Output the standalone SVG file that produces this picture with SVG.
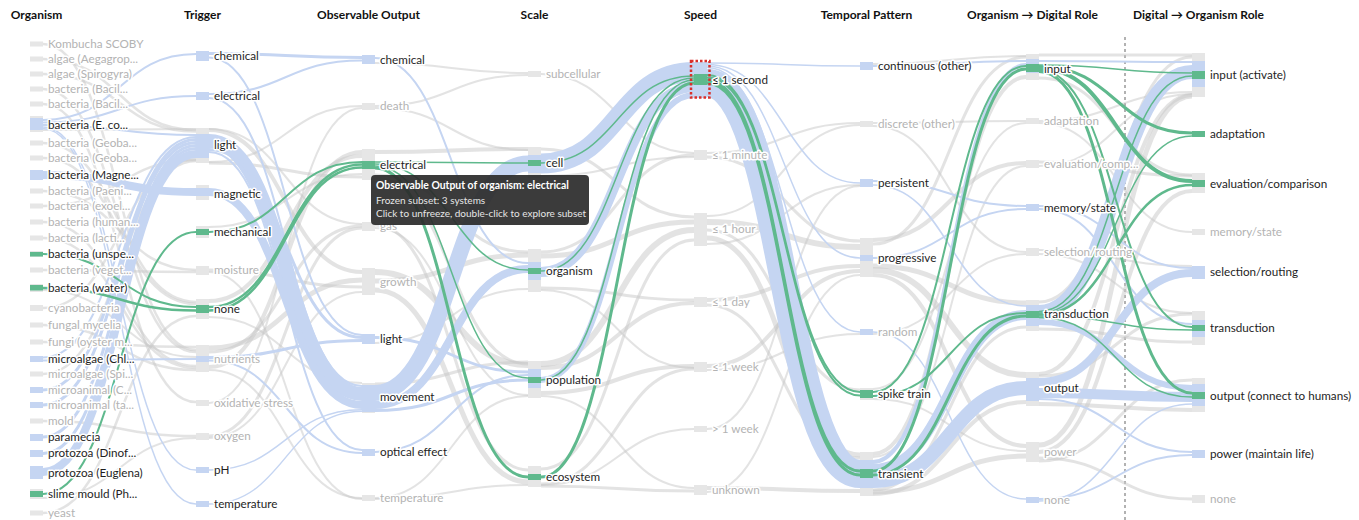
<svg xmlns="http://www.w3.org/2000/svg" width="1359" height="520" viewBox="0 0 1359 520">
<style>
.cg{fill:none;stroke:#c8c8c8;stroke-opacity:.5}
.cb{fill:none;stroke:#c5d5f2}
.cn{fill:none;stroke:#5fb98d}
.rg{fill:#e6e6e6}.rb{fill:#c5d5f2}.rn{fill:#5fb98d}
.l{font-family:Lato,"Noto Sans",sans-serif;font-size:11.7px;fill:#1e1e1e;paint-order:stroke;stroke:#fff;stroke-width:3px;stroke-linejoin:round}
.lg{fill:#b3b3b3}
.h{font-family:Lato,"Noto Sans",sans-serif;font-size:12px;font-weight:bold;text-anchor:middle;fill:#111}
.tt{font-family:Lato,"Noto Sans",sans-serif;font-size:10px;fill:#e6e6e6}
</style>
<rect width="1359" height="520" fill="#fff"/>
<g id="headers">
<text class="h" x="36.5" y="19">Organism</text>
<text class="h" x="202.5" y="19">Trigger</text>
<text class="h" x="368.5" y="19">Observable Output</text>
<text class="h" x="534.5" y="19">Scale</text>
<text class="h" x="700.5" y="19">Speed</text>
<text class="h" x="866.5" y="19">Temporal Pattern</text>
<text class="h" x="1032.5" y="19">Organism → Digital Role</text>
<text class="h" x="1198.5" y="19">Digital → Organism Role</text>
</g>
<line id="divider" x1="1125" y1="37" x2="1125" y2="520" stroke="#999" stroke-width="1.5" stroke-dasharray="3,3"/>
<g id="connectors">
<g id="grey-flows" class="cg">
<path stroke-width="2.5" d="M43 44C119.5 44 119.5 350 196 350"/>
<path stroke-width="2.5" d="M43 59C119.5 59 119.5 130 196 130"/>
<path stroke-width="2.5" d="M43 74C119.5 74 119.5 131.5 196 131.5"/>
<path stroke-width="2.5" d="M43 89C119.5 89 119.5 352 196 352"/>
<path stroke-width="2.5" d="M43 104C119.5 104 119.5 402 196 402"/>
<path stroke-width="2.5" d="M43 143C119.5 143 119.5 302 196 302"/>
<path stroke-width="2.5" d="M43 158C119.5 158 119.5 304 196 304"/>
<path stroke-width="2.5" d="M43 191C119.5 191 119.5 270 196 270"/>
<path stroke-width="2.5" d="M43 206C119.5 206 119.5 160 196 160"/>
<path stroke-width="2.5" d="M43 222C119.5 222 119.5 366 196 366"/>
<path stroke-width="2.5" d="M43 238C119.5 238 119.5 368 196 368"/>
<path stroke-width="2.5" d="M43 270C119.5 270 119.5 272 196 272"/>
<path stroke-width="2.5" d="M43 308C119.5 308 119.5 159 196 159"/>
<path stroke-width="2.5" d="M43 325C119.5 325 119.5 370 196 370"/>
<path stroke-width="2.5" d="M43 342C119.5 342 119.5 347 196 347"/>
<path stroke-width="2.5" d="M43 374C119.5 374 119.5 161 196 161"/>
<path stroke-width="2.5" d="M43 421C119.5 421 119.5 436 196 436"/>
<path stroke-width="2.5" d="M43 513C119.5 513 119.5 316 196 316"/>
<path stroke-width="2" d="M43 498C119.5 498 119.5 438 196 438"/>
<path stroke-width="2" d="M43 290C119.5 290 119.5 357 196 357"/>
<path stroke-width="2" d="M43 130C119.5 130 119.5 129 196 129"/>
<path stroke-width="4" d="M209 130C285.5 130 285.5 272 362 272"/>
<path stroke-width="2" d="M209 162C285.5 162 285.5 106 362 106"/>
<path stroke-width="5" d="M209 348C285.5 348 285.5 280 362 280"/>
<path stroke-width="3" d="M209 352C285.5 352 285.5 226 362 226"/>
<path stroke-width="4" d="M209 367C285.5 367 285.5 152 362 152"/>
<path stroke-width="2" d="M209 370C285.5 370 285.5 498 362 498"/>
<path stroke-width="3" d="M209 270C285.5 270 285.5 287 362 287"/>
<path stroke-width="2" d="M209 403C285.5 403 285.5 108 362 108"/>
<path stroke-width="3" d="M209 436C285.5 436 285.5 228 362 228"/>
<path stroke-width="2" d="M209 438C285.5 438 285.5 292 362 292"/>
<path stroke-width="4" d="M209 301C285.5 301 285.5 156 362 156"/>
<path stroke-width="2" d="M209 317C285.5 317 285.5 383 362 383"/>
<path stroke-width="2" d="M209 227C285.5 227 285.5 174 362 174"/>
<path stroke-width="3" d="M209 163C285.5 163 285.5 177 362 177"/>
<path stroke-width="2" d="M209 129C285.5 129 285.5 224 362 224"/>
<path stroke-width="2" d="M209 272C285.5 272 285.5 499 362 499"/>
<path stroke-width="2" d="M375 106C451.5 106 451.5 75 528 75"/>
<path stroke-width="2" d="M375 108C451.5 108 451.5 150 528 150"/>
<path stroke-width="4" d="M375 152C451.5 152 451.5 149 528 149"/>
<path stroke-width="3" d="M375 175C451.5 175 451.5 252 528 252"/>
<path stroke-width="3" d="M375 178C451.5 178 451.5 364 528 364"/>
<path stroke-width="3" d="M375 225C451.5 225 451.5 470 528 470"/>
<path stroke-width="2" d="M375 228C451.5 228 451.5 395 528 395"/>
<path stroke-width="6" d="M375 272C451.5 272 451.5 365 528 365"/>
<path stroke-width="5" d="M375 281C451.5 281 451.5 255 528 255"/>
<path stroke-width="5" d="M375 290C451.5 290 451.5 482 528 482"/>
<path stroke-width="2" d="M375 498C451.5 498 451.5 396 528 396"/>
<path stroke-width="2" d="M375 499C451.5 499 451.5 485 528 485"/>
<path stroke-width="2" d="M375 343C451.5 343 451.5 289 528 289"/>
<path stroke-width="3" d="M375 384C451.5 384 451.5 362 528 362"/>
<path stroke-width="2" d="M375 63C451.5 63 451.5 73 528 73"/>
<path stroke-width="2" d="M541 74C617.5 74 617.5 153 694 153"/>
<path stroke-width="3" d="M541 149C617.5 149 617.5 217 694 217"/>
<path stroke-width="2" d="M541 176C617.5 176 617.5 157 694 157"/>
<path stroke-width="3" d="M541 252C617.5 252 617.5 155 694 155"/>
<path stroke-width="5" d="M541 256C617.5 256 617.5 222 694 222"/>
<path stroke-width="3" d="M541 288C617.5 288 617.5 300 694 300"/>
<path stroke-width="6" d="M541 364C617.5 364 617.5 230 694 230"/>
<path stroke-width="4" d="M541 368C617.5 368 617.5 303 694 303"/>
<path stroke-width="4" d="M541 393C617.5 393 617.5 366 694 366"/>
<path stroke-width="2" d="M541 396C617.5 396 617.5 488 694 488"/>
<path stroke-width="3" d="M541 469C617.5 469 617.5 240 694 240"/>
<path stroke-width="3" d="M541 484C617.5 484 617.5 369 694 369"/>
<path stroke-width="2" d="M541 485C617.5 485 617.5 429 694 429"/>
<path stroke-width="3" d="M541 486C617.5 486 617.5 491 694 491"/>
<path stroke-width="2" d="M541 290C617.5 290 617.5 368 694 368"/>
<path stroke-width="2" d="M707 153C783.5 153 783.5 123 860 123"/>
<path stroke-width="3" d="M707 157C783.5 157 783.5 241 860 241"/>
<path stroke-width="2" d="M707 216C783.5 216 783.5 125 860 125"/>
<path stroke-width="6" d="M707 222C783.5 222 783.5 247 860 247"/>
<path stroke-width="3" d="M707 230C783.5 230 783.5 390 860 390"/>
<path stroke-width="5" d="M707 238C783.5 238 783.5 455 860 455"/>
<path stroke-width="2" d="M707 244C783.5 244 783.5 185 860 185"/>
<path stroke-width="4" d="M707 300C783.5 300 783.5 266 860 266"/>
<path stroke-width="3" d="M707 305C783.5 305 783.5 458 860 458"/>
<path stroke-width="4" d="M707 366C783.5 366 783.5 271 860 271"/>
<path stroke-width="2" d="M707 370C783.5 370 783.5 334 860 334"/>
<path stroke-width="2" d="M707 429C783.5 429 783.5 186 860 186"/>
<path stroke-width="4" d="M707 488C783.5 488 783.5 491 860 491"/>
<path stroke-width="2" d="M707 492C783.5 492 783.5 275 860 275"/>
<path stroke-width="2" d="M873 64C949.5 64 949.5 56 1026 56"/>
<path stroke-width="2" d="M873 123C949.5 123 949.5 121 1026 121"/>
<path stroke-width="2" d="M873 126C949.5 126 949.5 252 1026 252"/>
<path stroke-width="4" d="M873 240C949.5 240 949.5 163 1026 163"/>
<path stroke-width="3" d="M873 244C949.5 244 949.5 57 1026 57"/>
<path stroke-width="5" d="M873 266C949.5 266 949.5 303 1026 303"/>
<path stroke-width="6" d="M873 270C949.5 270 949.5 375 1026 375"/>
<path stroke-width="4" d="M873 275C949.5 275 949.5 446 1026 446"/>
<path stroke-width="2" d="M873 334C949.5 334 949.5 254 1026 254"/>
<path stroke-width="2" d="M873 389C949.5 389 949.5 123 1026 123"/>
<path stroke-width="2" d="M873 399C949.5 399 949.5 451 1026 451"/>
<path stroke-width="4" d="M873 454C949.5 454 949.5 77 1026 77"/>
<path stroke-width="2" d="M873 457C949.5 457 949.5 166 1026 166"/>
<path stroke-width="5" d="M873 492C949.5 492 949.5 456 1026 456"/>
<path stroke-width="4" d="M873 494C949.5 494 949.5 402 1026 402"/>
<path stroke-width="3" d="M873 490C949.5 490 949.5 327 1026 327"/>
<path stroke-width="3" d="M1039 55C1115.5 55 1115.5 55 1192 55"/>
<path stroke-width="3" d="M1039 78C1115.5 78 1115.5 175 1192 175"/>
<path stroke-width="2" d="M1039 121C1115.5 121 1115.5 92 1192 92"/>
<path stroke-width="2" d="M1039 123C1115.5 123 1115.5 232 1192 232"/>
<path stroke-width="3" d="M1039 162C1115.5 162 1115.5 176 1192 176"/>
<path stroke-width="2" d="M1039 166C1115.5 166 1115.5 94 1192 94"/>
<path stroke-width="2" d="M1039 250C1115.5 250 1115.5 266 1192 266"/>
<path stroke-width="2" d="M1039 254C1115.5 254 1115.5 313 1192 313"/>
<path stroke-width="3" d="M1039 302C1115.5 302 1115.5 57 1192 57"/>
<path stroke-width="3" d="M1039 329C1115.5 329 1115.5 342 1192 342"/>
<path stroke-width="4" d="M1039 374C1115.5 374 1115.5 95 1192 95"/>
<path stroke-width="4" d="M1039 404C1115.5 404 1115.5 410 1192 410"/>
<path stroke-width="3" d="M1039 376C1115.5 376 1115.5 314 1192 314"/>
<path stroke-width="5" d="M1039 445C1115.5 445 1115.5 96 1192 96"/>
<path stroke-width="4" d="M1039 452C1115.5 452 1115.5 191 1192 191"/>
<path stroke-width="3" d="M1039 458C1115.5 458 1115.5 499 1192 499"/>
<path stroke-width="3" d="M1039 461C1115.5 461 1115.5 380 1192 380"/>
</g>
<g id="blue-flows" class="cb">
<path stroke-width="2" d="M43 120C119.5 120 119.5 54 196 54"/>
<path stroke-width="2" d="M43 122.5C119.5 122.5 119.5 96 196 96"/>
<path stroke-width="2" d="M43 125C119.5 125 119.5 135 196 135"/>
<path stroke-width="1.5" d="M43 127C119.5 127 119.5 470 196 470"/>
<path stroke-width="1.5" d="M43 128.5C119.5 128.5 119.5 504 196 504"/>
<path stroke-width="8" d="M43 175C119.5 175 119.5 192 196 192"/>
<path stroke-width="2" d="M43 357.5C119.5 357.5 119.5 137 196 137"/>
<path stroke-width="2" d="M43 360.5C119.5 360.5 119.5 359 196 359"/>
<path stroke-width="3" d="M43 390C119.5 390 119.5 139.5 196 139.5"/>
<path stroke-width="3" d="M43 405C119.5 405 119.5 142.5 196 142.5"/>
<path stroke-width="3" d="M43 437C119.5 437 119.5 145.5 196 145.5"/>
<path stroke-width="3" d="M43 453.5C119.5 453.5 119.5 148.5 196 148.5"/>
<path stroke-width="8" d="M43 472C119.5 472 119.5 154 196 154"/>
<path stroke-width="3" d="M209 53.5C285.5 53.5 285.5 57.5 362 57.5"/>
<path stroke-width="2" d="M209 57.5C285.5 57.5 285.5 335 362 335"/>
<path stroke-width="2" d="M209 94C285.5 94 285.5 60.5 362 60.5"/>
<path stroke-width="2" d="M209 98C285.5 98 285.5 386 362 386"/>
<path stroke-width="14" d="M209 141C285.5 141 285.5 394 362 394"/>
<path stroke-width="3" d="M209 149.5C285.5 149.5 285.5 337.5 362 337.5"/>
<path stroke-width="2" d="M209 152C285.5 152 285.5 450 362 450"/>
<path stroke-width="8" d="M209 192C285.5 192 285.5 405 362 405"/>
<path stroke-width="3" d="M209 357.5C285.5 357.5 285.5 340.5 362 340.5"/>
<path stroke-width="2" d="M209 360.5C285.5 360.5 285.5 453 362 453"/>
<path stroke-width="1.5" d="M209 470C285.5 470 285.5 409.75 362 409.75"/>
<path stroke-width="1.5" d="M209 504C285.5 504 285.5 411.25 362 411.25"/>
<path stroke-width="2" d="M375 58C451.5 58 451.5 263 528 263"/>
<path stroke-width="16" d="M375 393C451.5 393 451.5 163.5 528 163.5"/>
<path stroke-width="8" d="M375 405C451.5 405 451.5 269 528 269"/>
<path stroke-width="3" d="M375 410.5C451.5 410.5 451.5 380 528 380"/>
<path stroke-width="3" d="M375 337.5C451.5 337.5 451.5 372 528 372"/>
<path stroke-width="2" d="M375 452C451.5 452 451.5 375 528 375"/>
<path stroke-width="20" d="M541 163.5C617.5 163.5 617.5 72 694 72"/>
<path stroke-width="10" d="M541 272C617.5 272 617.5 87 694 87"/>
<path stroke-width="6" d="M541 380C617.5 380 617.5 95 694 95"/>
<path stroke-width="1.5" d="M707 63C783.5 63 783.5 66 860 66"/>
<path stroke-width="1.5" d="M707 64.5C783.5 64.5 783.5 183 860 183"/>
<path stroke-width="1.5" d="M707 66C783.5 66 783.5 258 860 258"/>
<path stroke-width="1.5" d="M707 67.5C783.5 67.5 783.5 332 860 332"/>
<path stroke-width="28" d="M707 83C783.5 83 783.5 474 860 474"/>
<path stroke-width="2" d="M873 66C949.5 66 949.5 61 1026 61"/>
<path stroke-width="2" d="M873 181C949.5 181 949.5 206 1026 206"/>
<path stroke-width="1.5" d="M873 185C949.5 185 949.5 306 1026 306"/>
<path stroke-width="2" d="M873 258C949.5 258 949.5 209 1026 209"/>
<path stroke-width="1.5" d="M873 332C949.5 332 949.5 499 1026 499"/>
<path stroke-width="4" d="M873 462C949.5 462 949.5 65 1026 65"/>
<path stroke-width="10" d="M873 469C949.5 469 949.5 315 1026 315"/>
<path stroke-width="14" d="M873 481C949.5 481 949.5 388 1026 388"/>
<path stroke-width="2" d="M1039 61C1115.5 61 1115.5 62 1192 62"/>
<path stroke-width="2" d="M1039 206C1115.5 206 1115.5 268 1192 268"/>
<path stroke-width="2" d="M1039 209C1115.5 209 1115.5 324 1192 324"/>
<path stroke-width="14" d="M1039 312C1115.5 312 1115.5 72 1192 72"/>
<path stroke-width="6" d="M1039 322C1115.5 322 1115.5 388 1192 388"/>
<path stroke-width="8" d="M1039 382C1115.5 382 1115.5 273 1192 273"/>
<path stroke-width="10" d="M1039 393C1115.5 393 1115.5 397 1192 397"/>
<path stroke-width="2" d="M1039 399C1115.5 399 1115.5 452 1192 452"/>
<path stroke-width="2" d="M1039 499C1115.5 499 1115.5 455 1192 455"/>
<path stroke-width="1.5" d="M1039 501C1115.5 501 1115.5 404 1192 404"/>
</g>
<g id="green-flows" class="cn">
<path stroke-width="2" d="M43 254C119.5 254 119.5 307 196 307"/>
<path stroke-width="2.5" d="M43 288C119.5 288 119.5 310.5 196 310.5"/>
<path stroke-width="2" d="M43 494C119.5 494 119.5 232 196 232"/>
<path stroke-width="2" d="M209 232C285.5 232 285.5 162 362 162"/>
<path stroke-width="2.5" d="M209 307C285.5 307 285.5 164.5 362 164.5"/>
<path stroke-width="2.5" d="M209 310.5C285.5 310.5 285.5 167.5 362 167.5"/>
<path stroke-width="1.5" d="M375 162C451.5 162 451.5 163 528 163"/>
<path stroke-width="1.5" d="M375 164C451.5 164 451.5 270 528 270"/>
<path stroke-width="1.5" d="M375 166C451.5 166 451.5 378 528 378"/>
<path stroke-width="3" d="M375 168C451.5 168 451.5 477 528 477"/>
<path stroke-width="1.5" d="M541 163C617.5 163 617.5 76 694 76"/>
<path stroke-width="1.5" d="M541 271C617.5 271 617.5 78 694 78"/>
<path stroke-width="1.5" d="M541 380C617.5 380 617.5 80 694 80"/>
<path stroke-width="3" d="M541 477C617.5 477 617.5 83 694 83"/>
<path stroke-width="2" d="M707 75C783.5 75 783.5 392 860 392"/>
<path stroke-width="2" d="M707 77.5C783.5 77.5 783.5 395.5 860 395.5"/>
<path stroke-width="3" d="M707 80C783.5 80 783.5 471 860 471"/>
<path stroke-width="3" d="M707 83C783.5 83 783.5 475 860 475"/>
<path stroke-width="2" d="M873 392C949.5 392 949.5 66 1026 66"/>
<path stroke-width="2" d="M873 396C949.5 396 949.5 313 1026 313"/>
<path stroke-width="3" d="M873 471C949.5 471 949.5 69 1026 69"/>
<path stroke-width="3" d="M873 475C949.5 475 949.5 316 1026 316"/>
<path stroke-width="1.5" d="M1039 65C1115.5 65 1115.5 73 1192 73"/>
<path stroke-width="3" d="M1039 66.5C1115.5 66.5 1115.5 133 1192 133"/>
<path stroke-width="4" d="M1039 68.5C1115.5 68.5 1115.5 181 1192 181"/>
<path stroke-width="2" d="M1039 70C1115.5 70 1115.5 327 1192 327"/>
<path stroke-width="3" d="M1039 71.5C1115.5 71.5 1115.5 393 1192 393"/>
<path stroke-width="1.5" d="M1039 311.5C1115.5 311.5 1115.5 76 1192 76"/>
<path stroke-width="1.5" d="M1039 313C1115.5 313 1115.5 136 1192 136"/>
<path stroke-width="2.5" d="M1039 314.5C1115.5 314.5 1115.5 185 1192 185"/>
<path stroke-width="1.5" d="M1039 316C1115.5 316 1115.5 330 1192 330"/>
<path stroke-width="1.5" d="M1039 317.5C1115.5 317.5 1115.5 397 1192 397"/>
</g>
</g>
<g id="nodes-organism">
<g id="org-kombucha"><rect class="rg" x="30" y="41.5" width="13" height="5"/><text class="l lg" x="48" y="48">Kombucha SCOBY</text></g>
<g id="org-algae-aeg"><rect class="rg" x="30" y="56.5" width="13" height="5"/><text class="l lg" x="48" y="63">algae (Aegagrop...</text></g>
<g id="org-algae-spi"><rect class="rg" x="30" y="71.5" width="13" height="5"/><text class="l lg" x="48" y="78">algae (Spirogyra)</text></g>
<g id="org-bacil1"><rect class="rg" x="30" y="86.5" width="13" height="5"/><text class="l lg" x="48" y="93">bacteria (Bacil...</text></g>
<g id="org-bacil2"><rect class="rg" x="30" y="101.5" width="13" height="5"/><text class="l lg" x="48" y="108">bacteria (Bacil...</text></g>
<g id="org-ecoli"><rect class="rg" x="30" y="116" width="13" height="16"/><rect class="rb" x="30" y="118" width="13" height="12"/><text class="l" x="48" y="129">bacteria (E. co...</text></g>
<g id="org-geoba1"><rect class="rg" x="30" y="140.5" width="13" height="5"/><text class="l lg" x="48" y="147">bacteria (Geoba...</text></g>
<g id="org-geoba2"><rect class="rg" x="30" y="155.5" width="13" height="5"/><text class="l lg" x="48" y="162">bacteria (Geoba...</text></g>
<g id="org-magne"><rect class="rb" x="30" y="170" width="13" height="10"/><text class="l" x="48" y="179">bacteria (Magne...</text></g>
<g id="org-paeni"><rect class="rg" x="30" y="188.5" width="13" height="5"/><text class="l lg" x="48" y="195">bacteria (Paeni...</text></g>
<g id="org-exoel"><rect class="rg" x="30" y="203.5" width="13" height="5"/><text class="l lg" x="48" y="210">bacteria (exoel...</text></g>
<g id="org-human"><rect class="rg" x="30" y="219.5" width="13" height="5"/><text class="l lg" x="48" y="226">bacteria (human...</text></g>
<g id="org-lacti"><rect class="rg" x="30" y="235.5" width="13" height="5"/><text class="l lg" x="48" y="242">bacteria (lacti...</text></g>
<g id="org-unspe"><rect class="rg" x="30" y="251" width="13" height="6"/><rect class="rn" x="30" y="252" width="13" height="4.5"/><text class="l" x="48" y="258">bacteria (unspe...</text></g>
<g id="org-veget"><rect class="rg" x="30" y="267.5" width="13" height="5"/><text class="l lg" x="48" y="274">bacteria (veget...</text></g>
<g id="org-water"><rect class="rg" x="30" y="284" width="13" height="8"/><rect class="rn" x="30" y="285" width="13" height="5.5"/><text class="l" x="48" y="292">bacteria (water)</text></g>
<g id="org-cyano"><rect class="rg" x="30" y="305" width="13" height="6"/><text class="l lg" x="48" y="312">cyanobacteria</text></g>
<g id="org-fungal"><rect class="rg" x="30" y="322.5" width="13" height="5"/><text class="l lg" x="48" y="329">fungal mycelia</text></g>
<g id="org-fungi"><rect class="rg" x="30" y="339.5" width="13" height="5"/><text class="l lg" x="48" y="346">fungi (oyster m...</text></g>
<g id="org-chl"><rect class="rb" x="30" y="356" width="13" height="6"/><text class="l" x="48" y="363">microalgae (Chl...</text></g>
<g id="org-spi"><rect class="rg" x="30" y="371.5" width="13" height="5"/><text class="l lg" x="48" y="378">microalgae (Spi...</text></g>
<g id="org-microc"><rect class="rb" x="30" y="387" width="13" height="6"/><text class="l lg" x="48" y="394">microanimal (C...</text></g>
<g id="org-microta"><rect class="rb" x="30" y="402" width="13" height="6"/><text class="l lg" x="48" y="409">microanimal (ta...</text></g>
<g id="org-mold"><rect class="rg" x="30" y="418.5" width="13" height="5"/><text class="l lg" x="48" y="425">mold</text></g>
<g id="org-paramecia"><rect class="rb" x="30" y="434" width="13" height="7"/><text class="l" x="48" y="441">paramecia</text></g>
<g id="org-dinof"><rect class="rb" x="30" y="450" width="13" height="7"/><text class="l" x="48" y="457">protozoa (Dinof...</text></g>
<g id="org-euglena"><rect class="rb" x="30" y="466" width="13" height="13"/><text class="l" x="48" y="477">protozoa (Euglena)</text></g>
<g id="org-slime"><rect class="rg" x="30" y="489" width="13" height="10"/><rect class="rn" x="30" y="491" width="13" height="6"/><text class="l" x="48" y="498">slime mould (Ph...</text></g>
<g id="org-yeast"><rect class="rg" x="30" y="510.5" width="13" height="5"/><text class="l lg" x="48" y="517">yeast</text></g>
</g>
<g id="nodes-trigger">
<g id="trg-chemical"><rect class="rb" x="196" y="51" width="13" height="10"/><text class="l" x="214" y="60">chemical</text></g>
<g id="trg-electrical"><rect class="rb" x="196" y="92" width="13" height="8"/><text class="l" x="214" y="100">electrical</text></g>
<g id="trg-light"><rect class="rg" x="196" y="128" width="13" height="35"/><rect class="rb" x="196" y="134" width="13" height="24"/><text class="l" x="214" y="149">light</text></g>
<g id="trg-magnetic"><rect class="rg" x="196" y="185" width="13" height="15"/><rect class="rb" x="196" y="188" width="13" height="8"/><text class="l" x="214" y="198">magnetic</text></g>
<g id="trg-mechanical"><rect class="rg" x="196" y="226" width="13" height="12"/><rect class="rn" x="196" y="229" width="13" height="6"/><text class="l" x="214" y="236">mechanical</text></g>
<g id="trg-moisture"><rect class="rg" x="196" y="266" width="13" height="9"/><text class="l lg" x="214" y="274">moisture</text></g>
<g id="trg-none"><rect class="rg" x="196" y="299" width="13" height="20"/><rect class="rn" x="196" y="305" width="13" height="8"/><text class="l" x="214" y="313">none</text></g>
<g id="trg-nutrients"><rect class="rg" x="196" y="345" width="13" height="27"/><rect class="rb" x="196" y="356" width="13" height="6"/><text class="l lg" x="214" y="363">nutrients</text></g>
<g id="trg-oxidative"><rect class="rg" x="196" y="400" width="13" height="6"/><text class="l lg" x="214" y="407">oxidative stress</text></g>
<g id="trg-oxygen"><rect class="rg" x="196" y="433" width="13" height="7"/><text class="l lg" x="214" y="440">oxygen</text></g>
<g id="trg-ph"><rect class="rb" x="196" y="467" width="13" height="6"/><text class="l" x="214" y="474">pH</text></g>
<g id="trg-temperature"><rect class="rb" x="196" y="501" width="13" height="6"/><text class="l" x="214" y="508">temperature</text></g>
</g>
<g id="nodes-output">
<g id="out-chemical"><rect class="rb" x="362" y="55" width="13" height="9"/><text class="l" x="380" y="64">chemical</text></g>
<g id="out-death"><rect class="rg" x="362" y="103" width="13" height="7"/><text class="l lg" x="380" y="110">death</text></g>
<g id="out-electrical"><rect class="rg" x="362" y="149" width="13" height="31"/><rect class="rn" x="362" y="161" width="13" height="8"/><text class="l" x="380" y="169">electrical</text></g>
<g id="out-gas"><rect class="rg" x="362" y="222" width="13" height="9"/><text class="l lg" x="380" y="230">gas</text></g>
<g id="out-growth"><rect class="rg" x="362" y="268" width="13" height="27"/><text class="l lg" x="380" y="286">growth</text></g>
<g id="out-light"><rect class="rb" x="362" y="334" width="13" height="10"/><text class="l" x="380" y="343">light</text></g>
<g id="out-movement"><rect class="rg" x="362" y="383" width="13" height="30"/><rect class="rb" x="362" y="385" width="13" height="27"/><text class="l" x="380" y="401">movement</text></g>
<g id="out-optical"><rect class="rb" x="362" y="449" width="13" height="7"/><text class="l" x="380" y="456">optical effect</text></g>
<g id="out-temperature"><rect class="rg" x="362" y="495" width="13" height="6"/><text class="l lg" x="380" y="502">temperature</text></g>
</g>
<g id="nodes-scale">
<g id="scl-subcellular"><rect class="rg" x="528" y="71" width="13" height="6"/><text class="l lg" x="546" y="78">subcellular</text></g>
<g id="scl-cell"><rect class="rg" x="528" y="147" width="13" height="31"/><rect class="rb" x="528" y="155" width="13" height="18"/><rect class="rn" x="528" y="160" width="13" height="6"/><text class="l" x="546" y="167">cell</text></g>
<g id="scl-organism"><rect class="rg" x="528" y="249" width="13" height="43"/><rect class="rb" x="528" y="262" width="13" height="18"/><rect class="rn" x="528" y="268" width="13" height="6"/><text class="l" x="546" y="275">organism</text></g>
<g id="scl-population"><rect class="rg" x="528" y="361" width="13" height="37"/><rect class="rb" x="528" y="369" width="13" height="19"/><rect class="rn" x="528" y="377" width="13" height="6"/><text class="l" x="546" y="384">population</text></g>
<g id="scl-ecosystem"><rect class="rg" x="528" y="466" width="13" height="21"/><rect class="rn" x="528" y="474" width="13" height="6"/><text class="l" x="546" y="481">ecosystem</text></g>
</g>
<g id="nodes-speed">
<g id="spd-1s"><rect class="rb" x="694" y="62" width="13" height="36"/><rect class="rn" x="694" y="74" width="13" height="11"/><text class="l" x="712" y="84">≤ 1 second</text><rect x="691" y="61" width="18.5" height="36.5" fill="none" stroke="#d9302c" stroke-width="2.5" stroke-dasharray="2.5,2"/></g>
<g id="spd-1m"><rect class="rg" x="694" y="150" width="13" height="10"/><text class="l lg" x="712" y="159">≤ 1 minute</text></g>
<g id="spd-1h"><rect class="rg" x="694" y="213" width="13" height="33"/><text class="l lg" x="712" y="233">≤ 1 hour</text></g>
<g id="spd-1d"><rect class="rg" x="694" y="297" width="13" height="10"/><text class="l lg" x="712" y="306">≤ 1 day</text></g>
<g id="spd-1w"><rect class="rg" x="694" y="362" width="13" height="10"/><text class="l lg" x="712" y="371">≤ 1 week</text></g>
<g id="spd-gt1w"><rect class="rg" x="694" y="426" width="13" height="6"/><text class="l lg" x="712" y="433">&gt; 1 week</text></g>
<g id="spd-unknown"><rect class="rg" x="694" y="485" width="13" height="10"/><text class="l lg" x="712" y="494">unknown</text></g>
</g>
<g id="nodes-temporal">
<g id="tmp-continuous"><rect class="rb" x="860" y="62" width="13" height="8"/><text class="l" x="878" y="70">continuous (other)</text></g>
<g id="tmp-discrete"><rect class="rg" x="860" y="121" width="13" height="6"/><text class="l lg" x="878" y="128">discrete (other)</text></g>
<g id="tmp-persistent"><rect class="rb" x="860" y="179" width="13" height="8"/><text class="l" x="878" y="187">persistent</text></g>
<g id="tmp-progressive"><rect class="rg" x="860" y="238" width="13" height="39"/><rect class="rb" x="860" y="255" width="13" height="6"/><text class="l" x="878" y="262">progressive</text></g>
<g id="tmp-random"><rect class="rb" x="860" y="329" width="13" height="6"/><text class="l lg" x="878" y="336">random</text></g>
<g id="tmp-spike"><rect class="rg" x="860" y="388" width="13" height="12"/><rect class="rn" x="860" y="390" width="13" height="8"/><text class="l" x="878" y="398">spike train</text></g>
<g id="tmp-transient"><rect class="rg" x="860" y="452" width="13" height="44"/><rect class="rb" x="860" y="460" width="13" height="28"/><rect class="rn" x="860" y="469" width="13" height="9"/><text class="l" x="878" y="478">transient</text></g>
</g>
<g id="nodes-od">
<g id="od-input"><rect class="rg" x="1026" y="54" width="13" height="26"/><rect class="rb" x="1026" y="59" width="13" height="14"/><rect class="rn" x="1026" y="64" width="13" height="8"/><text class="l" x="1044" y="73">input</text></g>
<g id="od-adaptation"><rect class="rg" x="1026" y="118" width="13" height="6"/><text class="l lg" x="1044" y="125">adaptation</text></g>
<g id="od-evaluation"><rect class="rg" x="1026" y="160" width="13" height="8"/><text class="l lg" x="1044" y="168">evaluation/comp...</text></g>
<g id="od-memory"><rect class="rb" x="1026" y="204" width="13" height="7"/><text class="l" x="1044" y="212">memory/state</text></g>
<g id="od-selection"><rect class="rg" x="1026" y="248" width="13" height="8"/><text class="l lg" x="1044" y="256">selection/routing</text></g>
<g id="od-transduction"><rect class="rg" x="1026" y="300" width="13" height="31"/><rect class="rb" x="1026" y="305" width="13" height="21"/><rect class="rn" x="1026" y="311" width="13" height="7"/><text class="l" x="1044" y="318">transduction</text></g>
<g id="od-output"><rect class="rg" x="1026" y="372" width="13" height="34"/><rect class="rb" x="1026" y="378" width="13" height="23"/><text class="l" x="1044" y="392">output</text></g>
<g id="od-power"><rect class="rg" x="1026" y="442" width="13" height="20"/><text class="l lg" x="1044" y="456">power</text></g>
<g id="od-none"><rect class="rb" x="1026" y="497" width="13" height="6"/><text class="l lg" x="1044" y="504">none</text></g>
</g>
<g id="nodes-do">
<g id="do-input"><rect class="rg" x="1192" y="53" width="13" height="44"/><rect class="rb" x="1192" y="61" width="13" height="26"/><rect class="rn" x="1192" y="71" width="13" height="8"/><text class="l" x="1210" y="79">input (activate)</text></g>
<g id="do-adaptation"><rect class="rn" x="1192" y="131" width="13" height="6"/><text class="l" x="1210" y="138">adaptation</text></g>
<g id="do-evaluation"><rect class="rg" x="1192" y="173" width="13" height="20"/><rect class="rn" x="1192" y="180" width="13" height="7"/><text class="l" x="1210" y="188">evaluation/comparison</text></g>
<g id="do-memory"><rect class="rg" x="1192" y="229" width="13" height="6"/><text class="l lg" x="1210" y="236">memory/state</text></g>
<g id="do-selection"><rect class="rb" x="1192" y="266" width="13" height="13"/><text class="l" x="1210" y="276">selection/routing</text></g>
<g id="do-transduction"><rect class="rg" x="1192" y="311" width="13" height="34"/><rect class="rb" x="1192" y="320" width="13" height="17"/><rect class="rn" x="1192" y="325" width="13" height="6"/><text class="l" x="1210" y="332">transduction</text></g>
<g id="do-output"><rect class="rg" x="1192" y="378" width="13" height="34"/><rect class="rb" x="1192" y="384" width="13" height="22"/><rect class="rn" x="1192" y="392" width="13" height="7"/><text class="l" x="1210" y="400">output (connect to humans)</text></g>
<g id="do-power"><rect class="rb" x="1192" y="450" width="13" height="8"/><text class="l" x="1210" y="458">power (maintain life)</text></g>
<g id="do-none"><rect class="rg" x="1192" y="495" width="13" height="8"/><text class="l lg" x="1210" y="503">none</text></g>
</g>
<g id="tooltip">
<rect x="371" y="175" width="218" height="50" rx="4" fill="#2a2a2a" fill-opacity="0.92"/>
<text class="tt" x="376" y="189" font-weight="bold" style="fill:#fff;font-size:10.4px">Observable Output of organism: electrical</text>
<text class="tt" x="376" y="204">Frozen subset: 3 systems</text>
<text class="tt" x="376" y="217">Click to unfreeze, double-click to explore subset</text>
</g>
</svg>
